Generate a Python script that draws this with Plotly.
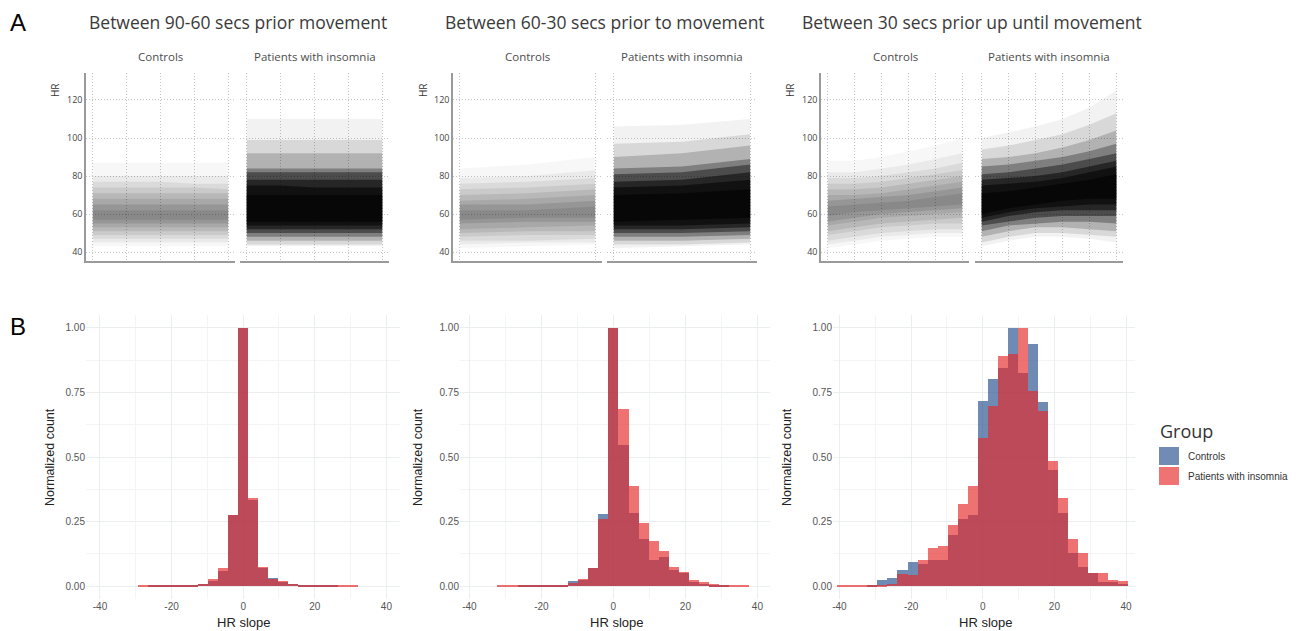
import plotly.graph_objects as go

W, H = 1299, 631

# ---------------- DATA ----------------
period_titles = ["Between 90-60 secs prior movement",
                 "Between 60-30 secs prior to movement",
                 "Between 30 secs prior up until movement"]
group_names = ["Controls", "Patients with insomnia"]
hr_ticks = [40, 60, 80, 100, 120]

# Panel A: HR trajectories summarised as nested envelopes (outermost -> innermost)
p1_t = [0, 1, 2, 3, 4]
p1_ctrl_lo = [[43, 43, 43, 43, 43], [45, 45, 45, 45, 45], [47, 47, 47, 47, 47], [49, 49, 49, 49, 49],
              [51, 51, 51, 51, 51], [53, 53, 53, 53, 53], [55, 55, 55, 55, 55], [57, 57, 57, 57, 57]]
p1_ctrl_hi = [[87, 87, 87, 87, 87], [80, 80, 80, 80, 80], [77, 77, 77, 76, 76], [74, 74, 74, 74, 73],
              [71, 71, 71, 71, 71], [68, 68, 68, 68, 68], [65, 65, 65, 65, 65], [62, 62, 62, 62, 62]]
p1_ins_lo = [[43, 43, 43, 43, 43], [44, 44, 44, 44, 44], [46, 46, 46, 46, 46], [48, 48, 48, 48, 48],
             [50, 50, 50, 50, 50], [52, 52, 52, 52, 52], [54, 54, 54, 54, 54], [56, 56, 56, 56, 56]]
p1_ins_hi = [[110, 110, 110, 110, 110], [99, 99, 99, 99, 99], [92, 92, 92, 92, 92], [84, 84, 84, 84, 84],
             [82, 82, 82, 82, 82], [78, 78, 78, 78, 78], [75, 75, 74, 74, 74], [70, 70, 70, 70, 70]]

p2_t = [0, 0.5, 1]
p2_ctrl_lo = [[42, 43, 44], [44, 45, 45], [46, 46, 47], [48, 49, 49], [50, 51, 51], [52, 53, 54], [55, 56, 56], [57, 58, 58]]
p2_ctrl_hi = [[84, 86, 90], [79, 80, 83], [76, 77, 79], [73, 74, 76], [70, 71, 73], [67, 68, 70], [65, 65, 67], [62, 62, 64]]
p2_ins_lo = [[42, 43, 44], [44, 44, 45], [46, 46, 47], [48, 48, 49], [50, 50, 51], [52, 52, 53], [54, 54, 55], [56, 57, 58]]
p2_ins_hi = [[106, 107, 110], [97, 98, 102], [90, 92, 96], [84, 85, 89], [81, 82, 86], [77, 78, 82], [74, 75, 78], [70, 71, 73]]

p3_t = [0, 1, 2, 3, 4, 5]
p3_ctrl_lo = [[42, 44, 46, 47, 48, 48], [44, 46, 48, 49, 50, 50], [46, 48, 50, 51, 52, 52], [49, 51, 53, 54, 55, 55],
              [51, 53, 55, 56, 57, 58], [54, 56, 58, 59, 60, 61], [56, 58, 60, 61, 62, 63], [59, 61, 62, 63, 64, 65]]
p3_ctrl_hi = [[88, 88, 90, 93, 96, 100], [82, 82, 84, 86, 89, 92], [79, 79, 80, 82, 84, 87], [76, 76, 77, 79, 81, 83],
              [73, 73, 74, 76, 78, 80], [70, 70, 71, 73, 75, 77], [67, 68, 69, 70, 72, 74], [64, 65, 66, 67, 69, 71]]
p3_ins_lo = [[43, 46, 48, 48, 47, 45], [45, 48, 50, 50, 49, 48], [48, 51, 53, 53, 52, 51], [51, 54, 55, 56, 56, 55],
             [54, 56, 58, 59, 59, 59], [56, 59, 61, 62, 62, 62], [58, 61, 63, 64, 65, 65], [60, 63, 65, 67, 68, 68]]
p3_ins_hi = [[100, 103, 106, 110, 116, 125], [94, 96, 99, 102, 107, 113], [89, 90, 92, 95, 99, 104], [85, 86, 88, 90, 93, 97],
             [81, 82, 84, 86, 89, 92], [78, 79, 80, 82, 85, 88], [75, 76, 77, 79, 82, 85], [71, 72, 74, 76, 78, 81]]

# Panel B: normalized histograms of HR slope
slope_bins = [-39.2, -36.4, -33.6, -30.8, -28.0, -25.2, -22.4, -19.6, -16.8, -14.0, -11.2, -8.4, -5.6, -2.8,
              0.0, 2.8, 5.6, 8.4, 11.2, 14.0, 16.8, 19.6, 22.4, 25.2, 28.0, 30.8, 33.6, 36.4, 39.2]
h1_ctrl = [0, 0, 0, 0, 0, 0.001, 0.002, 0.004, 0.002, 0.005, 0.010, 0.021, 0.058, 0.275,
           1.0, 0.334, 0.072, 0.030, 0.017, 0.009, 0.003, 0.004, 0.006, 0.001, 0, 0, 0, 0, 0]
h1_ins = [0, 0, 0, 0, 0.001, 0.002, 0.003, 0.002, 0.004, 0.005, 0.010, 0.026, 0.070, 0.275,
          1.0, 0.341, 0.075, 0.028, 0.018, 0.009, 0.003, 0.002, 0.002, 0.002, 0.002, 0.001, 0, 0, 0]
h2_ctrl = [0, 0, 0, 0, 0, 0.004, 0.001, 0.002, 0.003, 0.006, 0.019, 0.024, 0.072, 0.278,
           1.0, 0.547, 0.282, 0.181, 0.101, 0.111, 0.062, 0.050, 0.015, 0.009, 0.004, 0.002, 0, 0, 0]
h2_ins = [0, 0, 0, 0.002, 0.001, 0.001, 0.002, 0.002, 0.003, 0.006, 0.013, 0.026, 0.072, 0.260,
          1.0, 0.685, 0.386, 0.245, 0.173, 0.137, 0.075, 0.053, 0.023, 0.017, 0.007, 0.005, 0.002, 0.001, 0]
h3_ctrl = [0, 0, 0, 0.006, 0.022, 0.030, 0.062, 0.092, 0.085, 0.103, 0.103, 0.198, 0.258, 0.275,
           0.716, 0.801, 0.846, 1.0, 0.824, 0.937, 0.714, 0.450, 0.282, 0.127, 0.075, 0.049, 0.017, 0.015, 0.010]
h3_ins = [0.002, 0.002, 0.002, 0.006, 0.006, 0.010, 0.047, 0.043, 0.103, 0.146, 0.156, 0.236, 0.318, 0.386,
          0.572, 0.699, 0.893, 0.899, 1.0, 0.756, 0.678, 0.486, 0.341, 0.182, 0.129, 0.049, 0.049, 0.023, 0.020]
norm_ticks = [0, 0.25, 0.5, 0.75, 1.0]
norm_labels = ["0.00", "0.25", "0.50", "0.75", "1.00"]
slope_ticks = [-40, -20, 0, 20, 40]
slope_labels = ["-40", "-20", "0", "20", "40"]

# ---------------- STYLE / LAYOUT HELPERS ----------------
def xd(a, b):
    return [a / W, b / W]

def yd(top, bottom):
    return [1 - bottom / H, 1 - top / H]

def px(x):
    return x / W

def py(y):
    return 1 - y / H

CTRL_COL = "rgb(35,78,140)"
INS_COL = "rgb(232,40,40)"
BAR_ALPHA = 0.65
ctrl_alphas = [0.03, 0.052, 0.065, 0.07, 0.088, 0.082, 0.104, 0.083]
ins_alphas = [0.05, 0.105, 0.176, 0.286, 0.4, 0.5, 0.533, 0.571]
GRID_TOP = "#c4c4c4"

fig = go.Figure()
layout = {}
annotations = []

top_panels = [
    (p1_t, [(p1_ctrl_lo, p1_ctrl_hi), (p1_ins_lo, p1_ins_hi)], [0, 1, 2, 3, 4], [-0.2, 4.2],
     [(86, 235), (240, 389)], 55, 238),
    (p2_t, [(p2_ctrl_lo, p2_ctrl_hi), (p2_ins_lo, p2_ins_hi)], [0, 1], [-0.05, 1.05],
     [(453, 602), (607, 757)], 423, 605),
    (p3_t, [(p3_ctrl_lo, p3_ctrl_hi), (p3_ins_lo, p3_ins_hi)], [0, 1, 2, 3, 4, 5], [-0.25, 5.25],
     [(821, 969), (975, 1123)], 790, 972),
]

ax = 0
for pi, (tt, bands, tvals, xr, doms, hrx, titlex) in enumerate(top_panels):
    annotations.append(dict(text=period_titles[pi], x=px(titlex), y=py(22), xref="paper", yref="paper",
                            showarrow=False, font=dict(family="Open Sans", size=17.5, color="#3a3a3a"),
                            xanchor="center", yanchor="middle"))
    annotations.append(dict(text="HR", x=px(hrx), y=py(90), xref="paper", yref="paper", textangle=-90,
                            showarrow=False, font=dict(family="Open Sans", size=10, color="#333"),
                            xanchor="center", yanchor="middle"))
    for gi in range(2):
        ax += 1
        xa = "x" if ax == 1 else f"x{ax}"
        ya = "y" if ax == 1 else f"y{ax}"
        lo_levels, hi_levels = bands[gi]
        alphas = ctrl_alphas if gi == 0 else ins_alphas
        for lo, hi, a in zip(lo_levels, hi_levels, alphas):
            fig.add_trace(go.Scatter(x=list(tt) + list(tt)[::-1], y=list(hi) + list(lo)[::-1],
                                     fill="toself", fillcolor=f"rgba(0,0,0,{a})", mode="lines",
                                     line=dict(width=0), hoverinfo="skip", showlegend=False,
                                     xaxis=xa, yaxis=ya))
        d0, d1 = doms[gi]
        layout[f"xaxis{ax}"] = dict(domain=xd(d0, d1), range=xr, tickvals=tvals, showticklabels=False,
                                    showgrid=True, gridcolor=GRID_TOP, griddash="1px,2px", gridwidth=1,
                                    zeroline=False, showline=True, linecolor="#9a9a9a", linewidth=1.5,
                                    ticks="", anchor=ya, fixedrange=True)
        layout[f"yaxis{ax}"] = dict(domain=yd(73, 261), range=[35.3, 134.2], tickvals=hr_ticks,
                                    showticklabels=(gi == 0), showgrid=True, gridcolor=GRID_TOP,
                                    griddash="1px,2px", gridwidth=1, zeroline=False,
                                    showline=(gi == 0), linecolor="#9a9a9a", linewidth=1.5, ticks="",
                                    tickfont=dict(family="Open Sans", size=9, color="#444"),
                                    anchor=xa, fixedrange=True)
        cx = (d0 + d1) / 2
        annotations.append(dict(text=group_names[gi], x=px(cx), y=py(57), xref="paper", yref="paper",
                                showarrow=False, font=dict(family="Open Sans", size=11.5, color="#4d4d4d"),
                                xanchor="center", yanchor="middle"))

bottom_panels = [
    (h1_ctrl, h1_ins, (86, 400), [-43.9, 43.8], 50),
    (h2_ctrl, h2_ins, (460, 770), [-42.6, 43.5], 418),
    (h3_ctrl, h3_ins, (833, 1135), [-41.8, 42.5], 787),
]
for bi, (hc, hins, (d0, d1), xr, tx) in enumerate(bottom_panels):
    ax += 1
    xa, ya = f"x{ax}", f"y{ax}"
    fig.add_trace(go.Bar(x=slope_bins, y=hc, width=2.8, marker=dict(color=CTRL_COL, line=dict(width=0)),
                         opacity=BAR_ALPHA, name=group_names[0], showlegend=False, xaxis=xa, yaxis=ya))
    fig.add_trace(go.Bar(x=slope_bins, y=hins, width=2.8, marker=dict(color=INS_COL, line=dict(width=0)),
                         opacity=BAR_ALPHA, name=group_names[1], showlegend=False, xaxis=xa, yaxis=ya))
    layout[f"xaxis{ax}"] = dict(domain=xd(d0, d1), range=xr, tickvals=slope_ticks, ticktext=slope_labels,
                                showgrid=True, gridcolor="#ebeeee", gridwidth=1, zeroline=False,
                                showline=False, ticks="",
                                minor=dict(tickvals=[-30, -10, 10, 30], showgrid=True,
                                           gridcolor="#f3f5f5", gridwidth=0.8),
                                tickfont=dict(family="Liberation Sans", size=10, color="#555"),
                                anchor=ya, fixedrange=True)
    layout[f"yaxis{ax}"] = dict(domain=yd(315, 599), range=[-0.05, 1.05], tickvals=norm_ticks,
                                ticktext=norm_labels, showgrid=True, gridcolor="#ebeeee", gridwidth=1,
                                zeroline=False, showline=False, ticks="",
                                minor=dict(tickvals=[0.125, 0.375, 0.625, 0.875], showgrid=True,
                                           gridcolor="#f3f5f5", gridwidth=0.8),
                                tickfont=dict(family="Liberation Sans", size=10, color="#555"),
                                anchor=xa, fixedrange=True)
    annotations.append(dict(text="Normalized count", x=px(tx), y=py(457), xref="paper", yref="paper",
                            textangle=-90, showarrow=False,
                            font=dict(family="Liberation Sans", size=12.5, color="#222"),
                            xanchor="center", yanchor="middle"))
    annotations.append(dict(text="HR slope", x=px((d0 + d1) / 2 + (1 if bi else 0)), y=py(622),
                            xref="paper", yref="paper", showarrow=False,
                            font=dict(family="Liberation Sans", size=13, color="#222"),
                            xanchor="center", yanchor="middle"))

# panel letters
annotations.append(dict(text="A", x=px(18), y=py(22), xref="paper", yref="paper", showarrow=False,
                        font=dict(family="Liberation Sans", size=24, color="#000"), xanchor="center", yanchor="middle"))
annotations.append(dict(text="B", x=px(18), y=py(326), xref="paper", yref="paper", showarrow=False,
                        font=dict(family="Liberation Sans", size=24, color="#000"), xanchor="center", yanchor="middle"))

# legend (manual)
annotations.append(dict(text="Group", x=px(1158), y=py(431), xref="paper", yref="paper", showarrow=False,
                        font=dict(family="Open Sans", size=18, color="#333"), xanchor="left", yanchor="middle"))
shapes = []
for k, (col, yy) in enumerate([(CTRL_COL, (447, 465)), (INS_COL, (467, 485))]):
    shapes.append(dict(type="rect", xref="paper", yref="paper", x0=px(1159), x1=px(1179),
                       y0=py(yy[1]), y1=py(yy[0]), fillcolor=col, opacity=BAR_ALPHA, line=dict(width=0)))
    annotations.append(dict(text=group_names[k], x=px(1186), y=py((yy[0] + yy[1]) / 2), xref="paper",
                            yref="paper", showarrow=False,
                            font=dict(family="Liberation Sans", size=10, color="#333"),
                            xanchor="left", yanchor="middle"))

fig.update_layout(**layout)
fig.update_layout(width=W, height=H, margin=dict(l=0, r=0, t=0, b=0), plot_bgcolor="white",
                  paper_bgcolor="white", barmode="overlay", bargap=0, showlegend=False,
                  annotations=annotations, shapes=shapes)
fig.write_html("out.html", config={"displayModeBar": False},
               post_script="document.body.style.margin='0px';document.body.style.overflow='hidden';")
